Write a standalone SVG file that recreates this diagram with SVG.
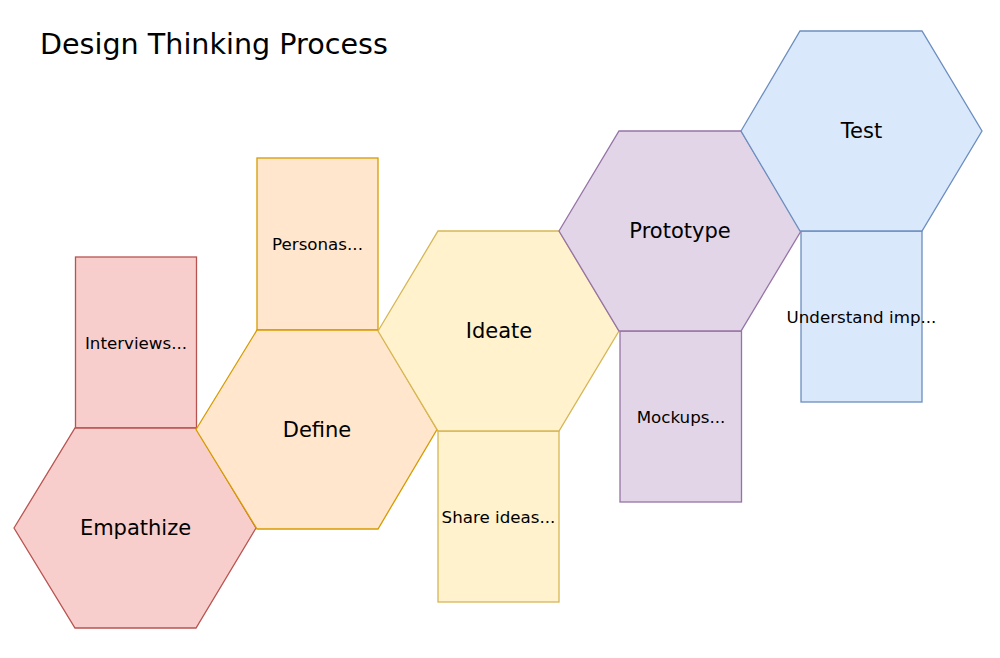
<svg xmlns="http://www.w3.org/2000/svg" width="1000" height="658" viewBox="0 0 1000 658">
<style>
text{font-family:"DejaVu Sans","Liberation Sans",sans-serif;fill:#000;text-anchor:middle;dominant-baseline:central}
.hl{font-size:21px}
.rl{font-size:16.7px}
.title{font-size:28.6px;text-anchor:start;dominant-baseline:auto}
.s{stroke-width:1.3}
.red{fill:#f8cecc;stroke:#b85450}
.org{fill:#ffe6cc;stroke:#d79b00}
.yel{fill:#fff2cc;stroke:#d6b656}
.pur{fill:#e1d5e7;stroke:#9673a6}
.blu{fill:#dae8fc;stroke:#6c8ebf}
</style>
<rect width="1000" height="658" fill="#fff"/>
<text class="title" x="40" y="54">Design Thinking Process</text>
<g id="connectors"></g>
<g id="interviews"><rect class="red s" x="75.5" y="257" width="121" height="171"/><text class="rl" x="136" y="342.5">Interviews...</text></g>
<g id="personas"><rect class="org s" x="257" y="158" width="121" height="172"/><text class="rl" x="317.5" y="244">Personas...</text></g>
<g id="shareideas"><rect class="yel s" x="438" y="431" width="121" height="171"/><text class="rl" x="498.5" y="517">Share ideas...</text></g>
<g id="mockups"><rect class="pur s" x="620" y="331" width="121.5" height="171"/><text class="rl" x="681" y="417">Mockups...</text></g>
<g id="understand"><rect class="blu s" x="801" y="231" width="121" height="171"/><text class="rl" x="861.5" y="317">Understand imp...</text></g>
<g id="empathize"><polygon class="red s" points="14,528 75,428 196,428 256,528 196,628 75,628"/><text class="hl" x="135.5" y="528">Empathize</text></g>
<g id="define"><polygon class="org s" points="196,429.5 257,330 378,330 437,429.5 378,529 257,529"/><text class="hl" x="317" y="429.5">Define</text></g>
<g id="ideate"><polygon class="yel s" points="378,331 438,231 559,231 619,331 559,431 438,431"/><text class="hl" x="499" y="331">Ideate</text></g>
<g id="prototype"><polygon class="pur s" points="559,231 619,131 741,131 801,231 741,331 619,331"/><text class="hl" x="680" y="231">Prototype</text></g>
<g id="test"><polygon class="blu s" points="741,131 800,31 922,31 982,131 922,231 800,231"/><text class="hl" x="861.5" y="131">Test</text></g>
</svg>
